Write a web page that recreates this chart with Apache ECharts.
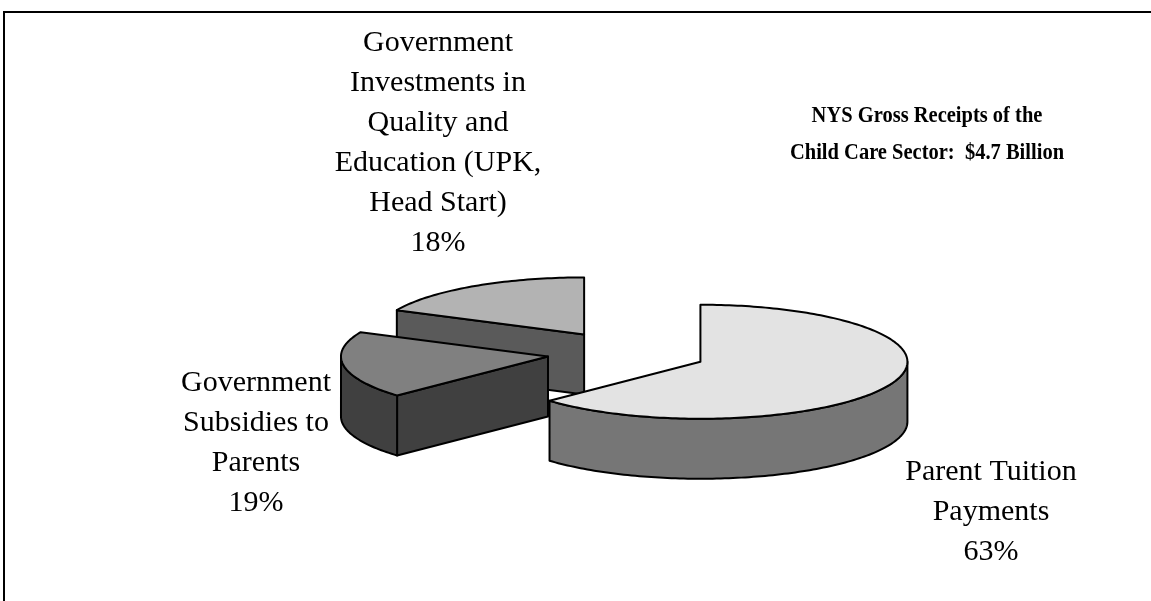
<!DOCTYPE html>
<html><head><meta charset="utf-8">
<script src="https://cdn.jsdelivr.net/npm/echarts@6/dist/echarts.min.js"></script>
<style>html,body{margin:0;padding:0;background:#fff}#c{width:1151px;height:601px}</style>
</head><body><div id="c"></div>
<script>
// ---- data ----
const categories = ['Parent Tuition Payments', 'Government Subsidies to Parents', 'Government Investments in Quality and Education (UPK, Head Start)'];
const shares = [63, 19, 18];
const labelLines = [
  ['Parent Tuition', 'Payments'],
  ['Government', 'Subsidies to', 'Parents'],
  ['Government', 'Investments in', 'Quality and', 'Education (UPK,', 'Head Start)']
];
const titleLines = ['NYS Gross Receipts of the', 'Child Care Sector:  $4.7 Billion'];

// ---- style / layout ----
const topColors = ['#e3e3e3', '#808080', '#b3b3b3'];
const sideColors = ['#767676', '#404040', '#5a5a5a'];
const PIE = {cx: 627, cy: 353, rx: 207, ry: 57, depth: 60, explodeX: 80, explodeY: 22};
const LABEL_POS = [[991, 512], [256, 443], [438, 143]];
const ORDER_Z = [30, 20, 10];
const FONT = '"Liberation Serif","Times New Roman",serif';

function renderItem(params, api) {
  const i = params.dataIndex;
  const total = shares.reduce((a, b) => a + b, 0);
  let start = 0;
  for (let j = 0; j < i; j++) start += shares[j];
  const v = api.value(0);
  const a0 = start / total * 2 * Math.PI;
  const a1 = (start + v) / total * 2 * Math.PI;
  const mid = (a0 + a1) / 2;
  const ax = PIE.cx + PIE.explodeX * Math.sin(mid);
  const ay = PIE.cy - PIE.explodeY * Math.cos(mid);
  const h = PIE.depth;
  const pt = (t, dy) => [ax + PIE.rx * Math.sin(t), ay - PIE.ry * Math.cos(t) + (dy || 0)];
  const arc = (t0, t1, dy) => {
    const n = Math.max(2, Math.ceil((t1 - t0) / 0.02));
    const out = [];
    for (let k = 0; k <= n; k++) out.push(pt(t0 + (t1 - t0) * k / n, dy));
    return out;
  };
  const st = (fill) => ({fill: fill, stroke: '#000', lineWidth: 2, lineJoin: 'round'});
  const z = ORDER_Z[i];
  const children = [];
  if (Math.sin(a0) < -1e-6) {
    children.push({type: 'polygon', z2: z, shape: {points: [[ax, ay], pt(a0), pt(a0, h), [ax, ay + h]]}, style: st(sideColors[i])});
  }
  if (Math.sin(a1) > 1e-6) {
    children.push({type: 'polygon', z2: z, shape: {points: [[ax, ay], pt(a1), pt(a1, h), [ax, ay + h]]}, style: st(sideColors[i])});
  }
  const w0 = Math.max(a0, Math.PI / 2), w1 = Math.min(a1, 3 * Math.PI / 2);
  if (w1 > w0) {
    const pts = arc(w0, w1, 0).concat(arc(w0, w1, h).reverse());
    children.push({type: 'polygon', z2: z + 1, shape: {points: pts}, style: st(sideColors[i])});
  }
  children.push({type: 'polygon', z2: z + 2, shape: {points: [[ax, ay]].concat(arc(a0, a1, 0))}, style: st(topColors[i])});
  const pct = Math.round(v / total * 100) + '%';
  children.push({
    type: 'text', z2: 50, x: LABEL_POS[i][0], y: LABEL_POS[i][1],
    style: {text: labelLines[i].concat([pct]).join('\n'), font: '30px ' + FONT, fill: '#000',
            align: 'center', verticalAlign: 'middle', lineHeight: 40}
  });
  return {type: 'group', children: children};
}

const chart = echarts.init(document.getElementById('c'), null, {renderer: 'canvas'});
chart.setOption({
  animation: false,
  backgroundColor: '#fff',
  graphic: [
    {type: 'rect', shape: {x: 4, y: 12, width: 1200, height: 700}, style: {fill: 'none', stroke: '#000', lineWidth: 2}, z: 0},
    {type: 'text', x: 927, y: 135, scaleY: 1.12,
     style: {text: titleLines.join('\n'), font: 'bold 20.5px ' + FONT, fill: '#000', align: 'center', verticalAlign: 'middle', lineHeight: 33}, z: 10}
  ],
  series: [{
    type: 'custom',
    coordinateSystem: 'none',
    renderItem: renderItem,
    silent: true,
    data: shares.map((v, i) => ({name: categories[i], value: [v]}))
  }]
});
</script></body></html>
